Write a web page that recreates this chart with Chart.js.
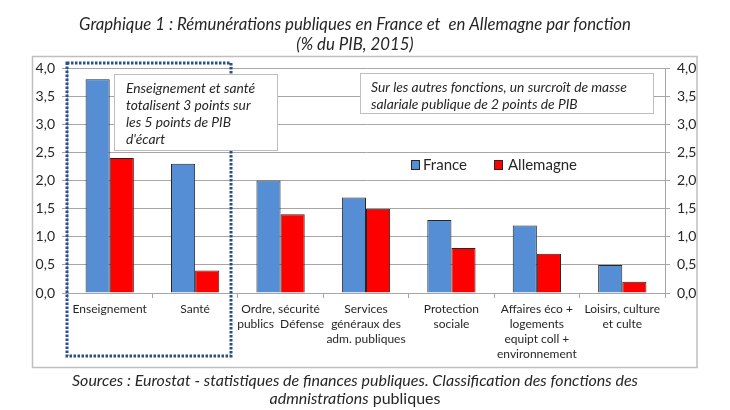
<!DOCTYPE html>
<html>
<head>
<meta charset="utf-8">
<script src="https://cdn.jsdelivr.net/npm/chart.js@4.4.1/dist/chart.umd.min.js"></script>
<style>
  body { margin: 0; background: #fff; }
  #wrap { width: 730px; height: 410px; position: relative; }
</style>
</head>
<body>
<div id="wrap"><canvas id="chart"></canvas></div>
<script>
const categories = [
    'Enseignement',
    'Santé',
    ['Ordre, sécurité', 'publics  Défense'],
    ['Services', 'généraux des', 'adm. publiques'],
    ['Protection', 'sociale'],
    ['Affaires éco +', 'logements', 'equipt coll +', 'environnement'],
    ['Loisirs, culture', 'et culte']
];
const france = [3.8, 2.3, 2.0, 1.7, 1.3, 1.2, 0.5];
const allemagne = [2.4, 0.4, 1.4, 1.5, 0.8, 0.7, 0.2];
const yMin = 0, yMax = 4, yStep = 0.5;

const titleLines = ['Graphique 1 : Rémunérations publiques en France et  en Allemagne par fonction', '(% du PIB, 2015)'];
const noteLeft = ['Enseignement et santé', 'totalisent 3 points sur', 'les 5 points de PIB', "d'écart"];
const noteRight = ['Sur les autres fonctions, un surcroît de masse', 'salariale publique de 2 points de PIB'];
const sourceLine1 = 'Sources : Eurostat - statistiques de finances publiques. Classification des fonctions des';
const sourceLine2 = ['admnistrations', ' publiques'];

const FONT = 'Lato, "Open Sans", sans-serif';
const TEXT = '#262626';
const GRID = '#a6a6a6';

const fmt = v => v.toFixed(1).replace('.', ',');

const decor = {
    id: 'decor',
    beforeDraw(chart) {
        const c = chart.ctx;
        c.save();
        c.fillStyle = '#fff';
        c.fillRect(0, 0, chart.width, chart.height);
        // cadre extérieur
        c.strokeStyle = '#bfbfbf';
        c.lineWidth = 1.5;
        c.strokeRect(32.5, 56.5, 664.5, 311);
        c.restore();
    },
    afterDraw(chart) {
        const c = chart.ctx;
        c.save();

        // titre
        c.fillStyle = TEXT;
        c.textAlign = 'center';
        c.textBaseline = 'middle';
        c.font = 'italic 16.8px ' + FONT;
        c.fillText(titleLines[0], 355, 25);
        c.fillText(titleLines[1], 355, 45);

        // pointillés autour d'Enseignement / Santé
        c.strokeStyle = '#2b4f8a';
        c.lineWidth = 3;
        c.setLineDash([2.5, 1.5]);
        c.strokeRect(67, 63, 164, 293);
        c.setLineDash([]);

        // encadrés de commentaire (par-dessus les pointillés)
        c.fillStyle = '#fff';
        c.strokeStyle = '#bfbfbf';
        c.lineWidth = 1;
        c.fillRect(114, 74, 163, 76);
        c.strokeRect(114.5, 74.5, 163, 76);
        c.fillRect(360, 73, 293, 40);
        c.strokeRect(360.5, 73.5, 293, 40);

        c.fillStyle = TEXT;
        c.textAlign = 'left';
        c.font = 'italic 13.8px ' + FONT;
        noteLeft.forEach((t, i) => c.fillText(t, 126, 89 + i * 16.7));
        noteRight.forEach((t, i) => c.fillText(t, 371, 87.5 + i * 17.5));

        // légende
        const legX = [[411, 423], [494, 508]];
        c.font = '15px ' + FONT;
        chart.data.datasets.forEach((ds, i) => {
            c.fillStyle = ds.backgroundColor;
            c.fillRect(legX[i][0], 160.5, 8, 9);
            c.strokeStyle = '#262626';
            c.lineWidth = 1;
            c.strokeRect(legX[i][0] + 0.5, 160.5, 8, 9);
            c.fillStyle = TEXT;
            c.fillText(ds.label, legX[i][1], 165);
        });

        // sources
        c.fillStyle = TEXT;
        c.textAlign = 'center';
        c.font = 'italic 16px ' + FONT;
        c.fillText(sourceLine1, 355, 381);
        const w1 = c.measureText(sourceLine2[0]).width;
        c.font = '16px ' + FONT;
        const w2 = c.measureText(sourceLine2[1]).width;
        const x0 = 355 - (w1 + w2) / 2;
        c.textAlign = 'left';
        c.font = 'italic 16px ' + FONT;
        c.fillText(sourceLine2[0], x0, 399);
        c.font = '16px ' + FONT;
        c.fillText(sourceLine2[1], x0 + w1, 399);

        c.restore();
    }
};

const yAxis = (pos, width) => ({
    position: pos,
    min: yMin,
    max: yMax,
    ticks: {
        stepSize: yStep,
        color: TEXT,
        font: { family: FONT, size: 14 },
        padding: 7,
        callback: v => fmt(v)
    },
    grid: {
        color: GRID,
        drawOnChartArea: pos === 'left',
        tickLength: 5
    },
    border: { color: GRID },
    afterFit: s => { s.width = width; }
});

new Chart(document.getElementById('chart'), {
    type: 'bar',
    data: {
        labels: categories,
        datasets: [
            {
                label: 'France',
                data: france,
                backgroundColor: '#558ed5',
                borderColor: '#262626',
                borderWidth: 1,
                yAxisID: 'y'
            },
            {
                label: 'Allemagne',
                data: allemagne,
                backgroundColor: '#ff0000',
                borderColor: '#262626',
                borderWidth: 1,
                yAxisID: 'y'
            }
        ]
    },
    options: {
        responsive: true,
        maintainAspectRatio: false,
        animation: false,
        datasets: {
            bar: { categoryPercentage: 0.565, barPercentage: 1 }
        },
        layout: { padding: { top: 68, left: 0, right: 0, bottom: 0 } },
        scales: {
            x: {
                ticks: {
                    color: TEXT,
                    font: { family: FONT, size: 12, lineHeight: 1.25 },
                    autoSkip: false,
                    maxRotation: 0,
                    padding: 4
                },
                grid: {
                    color: GRID,
                    drawOnChartArea: false,
                    tickLength: 5
                },
                border: { color: GRID },
                afterFit: s => { s.height = 117; }
            },
            y: yAxis('left', 67),
            y2: yAxis('right', 65)
        },
        plugins: {
            legend: { display: false },
            tooltip: { enabled: false }
        }
    },
    plugins: [decor]
});
</script>
</body>
</html>
